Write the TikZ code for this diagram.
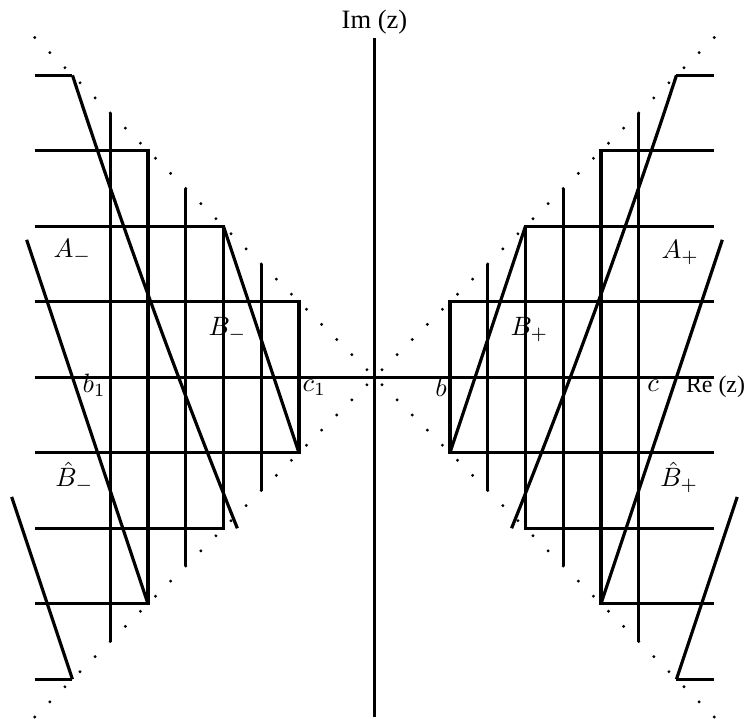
\documentclass[tikz,border=0pt]{standalone}
\usepackage{fontspec}
\setmainfont{Liberation Serif}
\usetikzlibrary{arrows.meta}

\begin{document}
\begin{tikzpicture}[every node/.style={font=\fontsize{10}{12}\selectfont,inner sep=0pt},
  axisline/.style={line width=1.05pt},
  gridline/.style={line width=1.15pt},
  cutline/.style={line width=1.2pt},
  lbl/.style={anchor=base west}]
\useasboundingbox (-4.960,-4.526) rectangle (4.921,4.997);
% dotted diagonals
\foreach \k in {0,...,22}{
  \fill ({0.1+0.2*\k},{0.1+0.2*\k}) circle (0.6pt);
  \fill ({-0.1-0.2*\k},{0.1+0.2*\k}) circle (0.6pt);
  \fill ({0.1+0.2*\k},{-0.1-0.2*\k}) circle (0.6pt);
  \fill ({-0.1-0.2*\k},{-0.1-0.2*\k}) circle (0.6pt);
}
% axes
\coordinate (imtop) at (0,4.5);
\coordinate (imbot) at (0,-4.5);
\coordinate (releft) at (-4.5,0);
\coordinate (reright) at (4.5,0);
\draw[axisline] (imbot)--(imtop);
\draw[axisline] (releft)--(reright);
% left steps
\draw[gridline] (-4.5,1)--(-1,1)--(-1,-1)--(-4.5,-1);
\draw[gridline] (-4.5,2)--(-2,2)--(-2,-2)--(-4.5,-2);
\draw[gridline] (-4.5,3)--(-3,3)--(-3,-3)--(-4.5,-3);
\draw[cutline] (-4.5,4)--(-4,4);
\draw[cutline] (-4.5,-4)--(-4,-4);
\draw[gridline] (-1.5,1.5)--(-1.5,-1.5);
\draw[gridline] (-2.5,2.5)--(-2.5,-2.5);
\draw[gridline] (-3.5,3.5)--(-3.5,-3.5);
% right steps
\draw[gridline] (4.5,1)--(1,1)--(1,-1)--(4.5,-1);
\draw[gridline] (4.5,2)--(2,2)--(2,-2)--(4.5,-2);
\draw[gridline] (4.5,3)--(3,3)--(3,-3)--(4.5,-3);
\draw[cutline] (4.5,4)--(4,4);
\draw[cutline] (4.5,-4)--(4,-4);
\draw[gridline] (1.5,1.5)--(1.5,-1.5);
\draw[gridline] (2.5,2.5)--(2.5,-2.5);
\draw[gridline] (3.5,3.5)--(3.5,-3.5);
% slanted lines
\draw[cutline] (-4,4) .. controls (-3.347,2) and (-2.619,0) .. (-1.816,-2);
\draw[cutline] (-2,2)--(-1,-1);
\draw[cutline] (-4.607,1.82)--(-3,-3);
\draw[cutline] (-4.805,-1.585)--(-4,-4);
\draw[cutline] (4,4) .. controls (3.347,2) and (2.619,0) .. (1.816,-2);
\draw[cutline] (2,2)--(1,-1);
\draw[cutline] (4.607,1.82)--(3,-3);
\draw[cutline] (4.805,-1.585)--(4,-4);
% labels
\node[anchor=base] (im) at (0,4.613) {Im (z)};
\node[lbl,font=\fontsize{9}{11}\selectfont] (re) at (4.12,-0.208) {Re (z)};
\node[lbl] (am) at (-4.258,1.58) {$A_-$};
\node[lbl] (ap) at (3.795,1.567) {$A_+$};
\node[lbl] (bm) at (-2.205,0.547) {$B_-$};
\node[lbl] (bp) at (1.795,0.547) {$B_+$};
\node[lbl] (bhm) at (-4.232,-1.453) {$\hat{B}_-$};
\node[lbl] (bhp) at (3.781,-1.453) {$\hat{B}_+$};
\node[lbl] (bone) at (-3.874,-0.208) {$b_1$};
\node[lbl] (cone) at (-0.96,-0.195) {$c_1$};
\node[lbl] (bb) at (0.799,-0.26) {$b$};
\node[lbl] (cc) at (3.609,-0.195) {$c$};
\end{tikzpicture}
\end{document}
